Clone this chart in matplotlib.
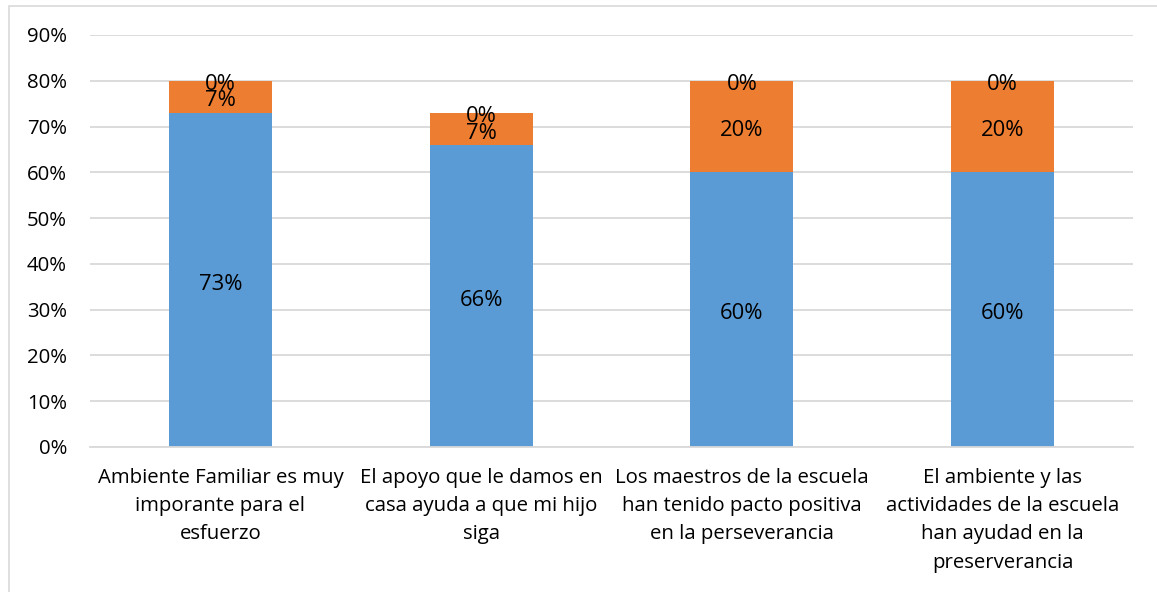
import matplotlib
matplotlib.use("Agg")
import matplotlib.pyplot as plt
from matplotlib.patches import Rectangle

categories = [
    "Ambiente Familiar es muy\nimporante para el\nesfuerzo",
    "El apoyo que le damos en\ncasa ayuda a que mi hijo\nsiga",
    "Los maestros de la escuela\nhan tenido pacto positiva\nen la perseverancia",
    "El ambiente y las\nactividades de la escuela\nhan ayudad en la\npreserverancia",
]
serie_si = [73, 66, 60, 60]
serie_aveces = [7, 7, 20, 20]
serie_no = [0, 0, 0, 0]
yticks = [0, 10, 20, 30, 40, 50, 60, 70, 80, 90]

plt.rcParams["font.family"] = ["Open Sans", "DejaVu Sans"]

fig = plt.figure(figsize=(11.57, 5.92), dpi=100)
ax = fig.add_axes([90 / 1157, 1 - 447 / 592, (1133 - 90) / 1157, (447 - 35) / 592])

# light frame around the chart area
fig.patches.append(Rectangle((9 / 1157, -0.1), 1.2, 1 - 6 / 592 + 0.1,
                             transform=fig.transFigure, fill=False,
                             edgecolor="#d9d9d9", linewidth=1.2))

x = range(len(categories))
w = 0.395
b1 = ax.bar(x, serie_si, w, color="#5b9bd5", zorder=2)
bottom2 = serie_si
b2 = ax.bar(x, serie_aveces, w, bottom=bottom2, color="#ed7d31", zorder=2)
bottom3 = [a + b for a, b in zip(serie_si, serie_aveces)]
b3 = ax.bar(x, serie_no, w, bottom=bottom3, color="#a5a5a5", zorder=2)

fmt = lambda v: f"{v:.0f}%"
lab_size = 15.8
texts = []
texts += ax.bar_label(b1, labels=[fmt(v) for v in serie_si], label_type="center", fontsize=lab_size, color="#000000")
texts += ax.bar_label(b2, labels=[fmt(v) for v in serie_aveces], label_type="center", fontsize=lab_size, color="#000000")
texts += ax.bar_label(b3, labels=[fmt(v) for v in serie_no], label_type="center", fontsize=lab_size, color="#000000")
for t in texts:
    t.xyann = (0, -3)

ax.set_xlim(-0.5, len(categories) - 0.5)
ax.set_ylim(0, 90)
ax.set_yticks(yticks)
ax.set_yticklabels([f"{t}%" for t in yticks])
ax.set_xticks(list(x))
ax.set_xticklabels(categories, linespacing=1.55)
ax.tick_params(axis="both", length=0, labelsize=14.7, colors="#000000")
ax.tick_params(axis="y", pad=16.5)
ax.tick_params(axis="x", pad=15)
ax.yaxis.grid(True, color="#d9d9d9", linewidth=1.3, zorder=0)
ax.set_axisbelow(True)
for s in ["top", "right", "left"]:
    ax.spines[s].set_visible(False)
ax.spines["bottom"].set_color("#d9d9d9")
ax.spines["bottom"].set_linewidth(1.3)

fig.savefig("out.png", dpi=100)
